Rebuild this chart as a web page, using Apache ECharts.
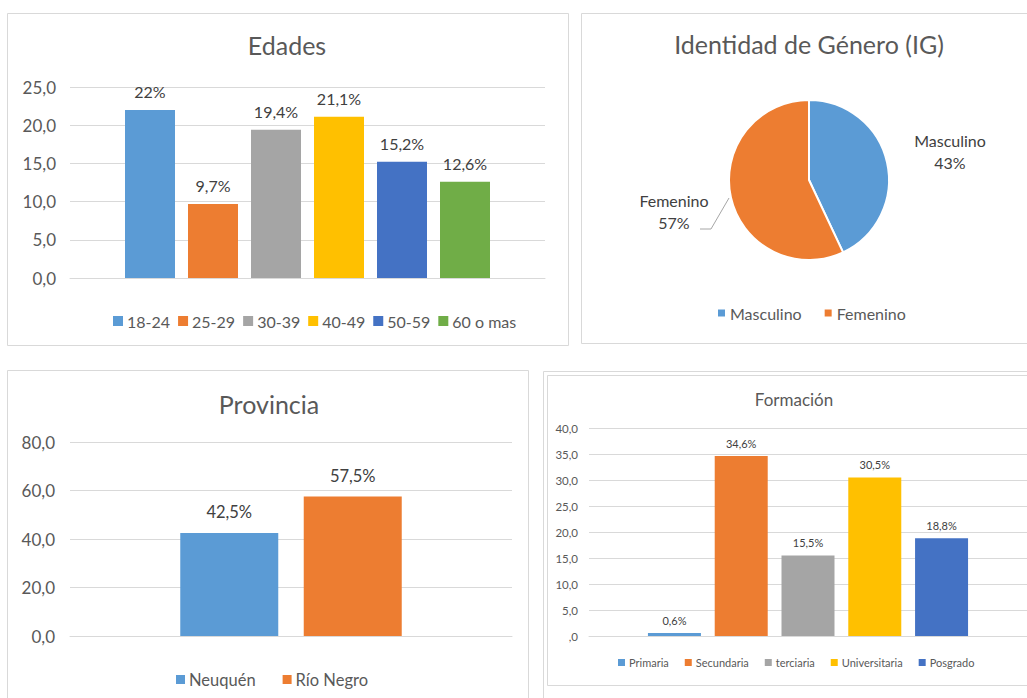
<!DOCTYPE html>
<html><head><meta charset="utf-8">
<script src="https://cdn.jsdelivr.net/npm/echarts@6/dist/echarts.min.js"></script>
<style>html,body{margin:0;padding:0;background:#fff}#c{width:1027px;height:698px}</style>
</head><body><div id="c"></div><script>
// ---- data ----
const edadesCategories = ['18-24', '25-29', '30-39', '40-49', '50-59', '60 o mas'];
const edadesValues = [22.0, 9.7, 19.4, 21.1, 15.2, 12.6];
const generoCategories = ['Masculino', 'Femenino'];
const generoValues = [43, 57];
const provinciaCategories = ['Neuquén', 'Río Negro'];
const provinciaValues = [42.5, 57.5];
const formacionCategories = ['Primaria', 'Secundaria', 'terciaria', 'Universitaria', 'Posgrado'];
const formacionValues = [0.6, 34.6, 15.5, 30.5, 18.8];
const chartTitles = ['Edades', 'Identidad de Género (IG)', 'Provincia', 'Formación'];

// ---- styles ----
const FONT = 'Lato';
const palette = ['#5B9BD5', '#ED7D31', '#A5A5A5', '#FFC000', '#4472C4', '#70AD47'];
const TXT = '#595959', LBL = '#404040', GRID = '#D9D9D9';

const fmtAxis = v => v.toFixed(1).replace('.', ',');
const fmtAxisF = v => v === 0 ? ',0' : v.toFixed(1).replace('.', ',');
const fmtPct = v => (v % 1 === 0 ? String(v) : v.toFixed(1).replace('.', ',')) + '%';

function barSeries(cats, vals, axisIdx, barWidth, barGap, fontSize, dist) {
  return cats.map((name, i) => ({
    type: 'bar', name, xAxisIndex: axisIdx, yAxisIndex: axisIdx,
    data: [vals[i]], barWidth, barGap,
    itemStyle: { color: palette[i % palette.length] },
    label: { show: true, position: 'top', distance: dist, formatter: p => fmtPct(p.value),
      fontFamily: FONT, fontSize, color: LBL }
  }));
}

function xAx(g) {
  return { type: 'category', gridIndex: g, data: [''],
    axisLine: { lineStyle: { color: GRID } }, axisTick: { show: false }, axisLabel: { show: false } };
}
function yAx(g, max, interval, fs, margin, fmt) {
  return { type: 'value', gridIndex: g, min: 0, max, interval,
    axisLabel: { formatter: fmt, fontFamily: FONT, fontSize: fs, color: TXT, margin },
    splitLine: { lineStyle: { color: GRID, width: 1 } },
    axisLine: { show: false }, axisTick: { show: false } };
}
function leg(data, left, top, size, fs, gap) {
  return { data, left, top, padding: 0, icon: 'rect', itemWidth: size, itemHeight: size, itemGap: gap,
    selectedMode: false, textStyle: { fontFamily: FONT, fontSize: fs, color: TXT, padding: [0, 0, 0, -1] } };
}
function box(x, y, w, h) {
  return { type: 'rect', silent: true, shape: { x: x + 0.5, y: y + 0.5, width: w, height: h },
    style: { fill: 'none', stroke: GRID, lineWidth: 1 } };
}
function ttl(text, x, y, fs) {
  return { type: 'text', silent: true, x, y,
    style: { text, fill: TXT, font: fs + 'px ' + FONT, align: 'center', verticalAlign: 'middle' } };
}

const chart = echarts.init(document.getElementById('c'), null, { renderer: 'svg' });
chart.setOption({
  animation: false,
  backgroundColor: '#fff',
  graphic: [
    box(7, 13, 561, 332),
    box(581, 13, 460, 330),
    box(7, 370, 521, 340),
    box(543, 371, 500, 340),
    box(547, 375, 500, 310),
    ttl(chartTitles[0], 287, 45, 25),
    ttl(chartTitles[1], 809, 44, 25),
    ttl(chartTitles[2], 269, 404, 25),
    ttl(chartTitles[3], 794, 399, 17)
  ],
  grid: [
    { left: 70, top: 87, width: 475, height: 191 },
    { left: 70, top: 442, width: 442, height: 194 },
    { left: 589, top: 428, width: 438, height: 208 }
  ],
  xAxis: [xAx(0), xAx(1), xAx(2)],
  yAxis: [
    yAx(0, 25, 5, 17, 14, fmtAxis),
    yAx(1, 80, 20, 17, 15, fmtAxis),
    yAx(2, 40, 5, 11.5, 11, fmtAxisF)
  ],
  legend: [
    leg(edadesCategories, 113, 313, 10, 16, 8),
    leg(generoCategories, 716, 305, 9, 16, 21),
    leg(provinciaCategories, 176, 671, 9, 16.5, 27),
    leg(formacionCategories, 618, 657, 7, 11, 16)
  ],
  series: [
    ...barSeries(edadesCategories, edadesValues, 0, 50, '26%', 16, 10),
    ...barSeries(provinciaCategories, provinciaValues, 1, 98, '26%', 16.5, 12),
    ...barSeries(formacionCategories, formacionValues, 2, 53, '26%', 11, 7),
    {
      type: 'pie', center: [809, 180], radius: 80, startAngle: 90, clockwise: true,
      emphasis: { disabled: true },
      itemStyle: { borderColor: '#fff', borderWidth: 2 },
      data: generoCategories.map((name, i) => ({
        name, value: generoValues[i], itemStyle: { color: palette[i] },
        labelLine: { show: i === 1 }
      })),
      label: { show: true, position: 'outside', formatter: p => p.name + '\n' + p.value + '%',
        fontFamily: FONT, fontSize: 16, color: LBL, lineHeight: 22, align: 'center' },
      labelLine: { show: true, lineStyle: { color: '#A6A6A6', width: 1 } },
      labelLayout: p => p.dataIndex === 0
        ? { x: 950, y: 151, align: 'center', verticalAlign: 'middle' }
        : { x: 674, y: 211, align: 'center', verticalAlign: 'middle',
            labelLinePoints: [[729, 198], [711, 229], [700, 229]] }
    }
  ]
});
</script></body></html>
